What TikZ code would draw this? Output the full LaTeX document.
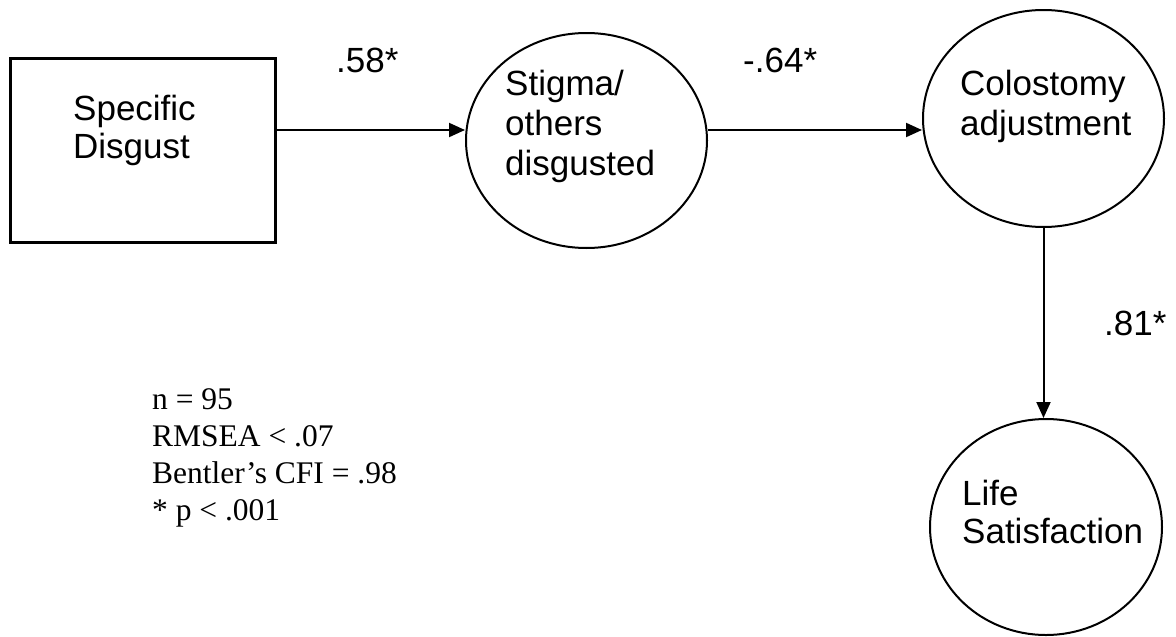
\documentclass[tikz,border=0pt]{standalone}
\usepackage{fontspec}
\setmainfont{Liberation Serif}
\newfontfamily\arialf{Liberation Sans}
\usetikzlibrary{arrows.meta,shapes.geometric}
\begin{document}
\begin{tikzpicture}[x=1pt,y=-1pt,
  box/.style={draw,line width=3pt,minimum width=265pt,minimum height=184pt,inner sep=0pt},
  latent/.style={draw,ellipse,line width=2pt,inner sep=0pt},
  lbl/.style={font=\arialf\fontsize{35}{38}\selectfont,align=left,anchor=base west,inner sep=0pt},
  coef/.style={font=\arialf\fontsize{35}{38}\selectfont,anchor=base west,inner sep=0pt},
  stats/.style={font=\fontsize{31.5}{36.7}\selectfont,align=left,anchor=base west,inner sep=0pt},
  arr/.style={line width=2pt,-{Triangle[length=16pt,width=14pt]}}]
\useasboundingbox (0,0) rectangle (1176,637);
\node[box] (sd) at (142.5,150) {};
\node[latent,minimum width=241pt,minimum height=215pt] (st) at (586.5,140.5) {};
\node[latent,minimum width=241pt,minimum height=217pt] (ca) at (1043.5,118.5) {};
\node[latent,minimum width=232pt,minimum height=216pt] (ls) at (1046,527) {};

\node[lbl,font=\arialf\fontsize{35}{37.5}\selectfont] (sdt) at (73,158) {Specific\\Disgust};
\node[lbl,font=\arialf\fontsize{35}{40}\selectfont] (stt) at (505,175) {Stigma/\\others\\disgusted};
\node[lbl,font=\arialf\fontsize{35}{40}\selectfont] (cat) at (960,135) {Colostomy\\adjustment};
\node[lbl,font=\arialf\fontsize{35}{38}\selectfont] (lst) at (962,543) {Life\\Satisfaction};

\draw[arr] ([yshift=20pt]sd.east) -- ([yshift=20pt]sd.east -| st.west);
\draw[arr] ([yshift=10.5pt]st.east) -- ([yshift=-11.5pt]ca.west);
\draw[arr] (ca.south) -- (ca.south |- ls.north);

\node[coef] (c1) at (336,72) {.58*};
\node[coef] (c2) at (743,72) {-.64*};
\node[coef] (c3) at (1104,335) {.81*};

\node[stats] (fit) at (152,520) {n = 95\\RMSEA < .07\\Bentler’s CFI = .98\\* p < .001};
\end{tikzpicture}
\end{document}
